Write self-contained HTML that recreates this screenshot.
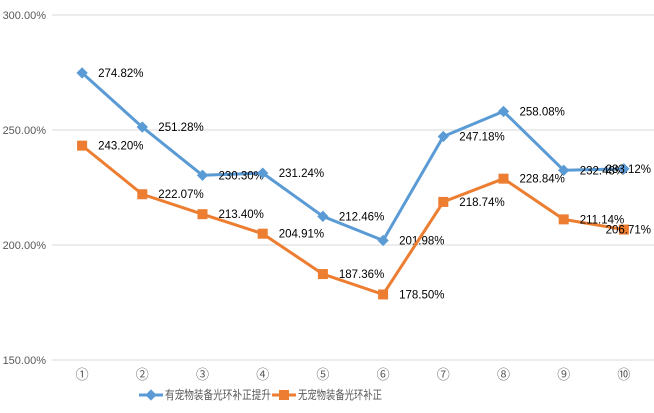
<!DOCTYPE html>
<html><head><meta charset="utf-8"><style>
body{margin:0;background:#fff;}
svg{display:block;font-family:"Liberation Sans","Noto Sans CJK SC",sans-serif;}
</style></head><body>
<svg id="chart" width="654" height="413"></svg>
<script>
const categories=["①","②","③","④","⑤","⑥","⑦","⑧","⑨","⑩"];
const seriesA=[274.82,251.28,230.30,231.24,212.46,201.98,247.18,258.08,232.48,233.12];
const seriesB=[243.20,222.07,213.40,204.91,187.36,178.50,218.74,228.84,211.14,206.71];
const yTicks=[150,200,250,300];
const seriesNames=["有宠物装备光环补正提升","无宠物装备光环补正"];
const colors=["#5b9bd5","#ed7d31"];
const NS="http://www.w3.org/2000/svg";
const svg=document.getElementById('chart');
const x0=52,x1=654,yB=360,yT=15;
const bw=(x1-x0)/categories.length;
function xs(i){return x0+bw*(i+0.5);}
function ys(v){return yB-(v-150)/(300-150)*(yB-yT);}
function mk(t,a,p){const e=document.createElementNS(NS,t);for(const k in a)e.setAttribute(k,a[k]);(p||svg).appendChild(e);return e;}
yTicks.forEach(v=>{
  const l=mk('line',{x1:x0,x2:x1,y1:ys(v),y2:ys(v),stroke:'#d9d9d9','stroke-width':1});
  
  
  const t=mk('text',{x:46,y:ys(v)+4,'text-anchor':'end','font-size':11,fill:'#595959'});
  t.textContent=v.toFixed(2)+'%';
  
  
});
categories.forEach((c,i)=>{
  const t=mk('text',{x:xs(i),y:379,'text-anchor':'middle','font-size':13,fill:'#595959'});
  t.textContent=c;
  
  
});
[seriesA,seriesB].forEach((s,si)=>{
  const g=mk('g',{});
  
  
  mk('polyline',{points:s.map((v,i)=>xs(i)+','+ys(v)).join(' '),fill:'none',stroke:colors[si],'stroke-width':3,'stroke-linejoin':'round'},g);
  s.forEach((v,i)=>{
    let m;
    if(si==0){m=mk('rect',{x:xs(i)-4,y:ys(v)-4,width:8,height:8,fill:colors[0],transform:`rotate(45 ${xs(i)} ${ys(v)})`},g);}
    else{m=mk('rect',{x:xs(i)-5,y:ys(v)-5,width:10,height:10,fill:colors[1]},g);}
    
    
    const last=i==s.length-1;
    const t=mk('text',{x:last?651:xs(i)+16,y:ys(v)+4,'font-size':11.5,fill:'#000','text-anchor':last?'end':'start'},g);
    t.textContent=v.toFixed(2)+'%';
    
    
  });
});
const lg=mk('g',{});


const lx=[139,272];
const lw=[106,84];
seriesNames.forEach((n,i)=>{
  const x=lx[i];
  mk('line',{x1:x,x2:x+24,y1:395,y2:395,stroke:colors[i],'stroke-width':3},lg);
  if(i==0)mk('rect',{x:x+8,y:391,width:8,height:8,fill:colors[0],transform:`rotate(45 ${x+12} 395)`},lg);
  else mk('rect',{x:x+7,y:390,width:10,height:10,fill:colors[1]},lg);
  const t=mk('text',{x:x+26,y:399,'font-size':12,fill:'#595959',textLength:lw[i],lengthAdjust:'spacingAndGlyphs'},lg);
  t.textContent=n;
  
  
});
</script>
</body></html>
